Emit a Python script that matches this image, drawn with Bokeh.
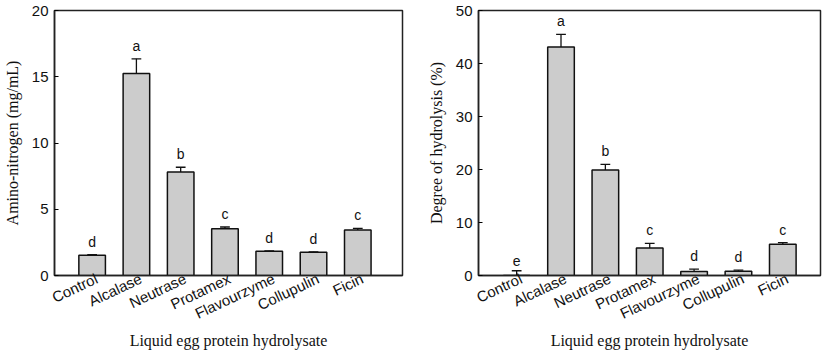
from bokeh.plotting import figure
from bokeh.layouts import row
from bokeh.models import FixedTicker, Range1d, ColumnDataSource
from bokeh.core.properties import value
from bokeh.embed import file_html
from bokeh.resources import INLINE

categories = ["Control", "Alcalase", "Neutrase", "Protamex", "Flavourzyme", "Collupulin", "Ficin"]
amino_n = [1.53, 15.25, 7.82, 3.53, 1.83, 1.76, 3.43]
amino_n_err = [0.05, 1.1, 0.35, 0.13, 0.03, 0.03, 0.12]
amino_n_letters = ["d", "a", "b", "c", "d", "d", "c"]
dh = [0.0, 43.1, 19.9, 5.2, 0.75, 0.8, 5.9]
dh_err = [0.9, 2.4, 1.05, 0.87, 0.45, 0.2, 0.3]
dh_letters = ["e", "a", "b", "c", "d", "d", "c"]
x_title = "Liquid egg protein hydrolysate"

SANS = "Liberation Sans"
SERIF = "Liberation Serif"


def make(vals, errs, letters, ymax, yticks, ylabel, width, bl, br, xr):
    xs = list(range(len(categories)))
    tops = [v + e for v, e in zip(vals, errs)]
    src = ColumnDataSource(dict(x=xs, v=vals, top=tops,
                                x0=[x - 0.11 for x in xs], x1=[x + 0.11 for x in xs],
                                lab=letters))
    p = figure(width=width, height=352, output_backend="svg", toolbar_location=None,
               x_range=Range1d(*xr), y_range=Range1d(0, ymax),
               min_border_left=bl, min_border_right=br, min_border_top=10, min_border_bottom=76)
    p.vbar(x="x", top="v", bottom=0, width=0.6, source=src, fill_color="#cccccc",
           line_color="#111111", line_width=1.5)
    p.segment(x0="x", y0="v", x1="x", y1="top", source=src, line_color="#111111", line_width=1.3)
    p.segment(x0="x0", y0="top", x1="x1", y1="top", source=src, line_color="#111111", line_width=1.3)
    p.text(x="x", y="top", text="lab", source=src, y_offset=-5, text_align="center",
           text_baseline="bottom", text_font=value(SANS), text_font_size="14px", text_color="#111111")
    p.xgrid.visible = False
    p.ygrid.visible = False
    p.outline_line_color = "#222222"
    p.outline_line_width = 1.5
    p.outline_line_alpha = 1.0

    xa = p.xaxis[0]
    label_pos = [x + 0.1 for x in xs]
    xa.ticker = FixedTicker(ticks=label_pos)
    xa.major_label_overrides = {t: c for t, c in zip(label_pos, categories)}
    xa.major_label_orientation = 0.44
    xa.major_tick_in = 0
    xa.major_tick_out = 0
    xa.minor_tick_line_color = None
    xa.axis_line_color = "#222222"
    xa.axis_line_width = 1.5
    xa.major_label_text_font = SANS
    xa.major_label_text_font_size = "15px"
    xa.major_label_text_color = "#111111"
    xa.major_label_standoff = 2
    xa.axis_label = x_title
    xa.axis_label_text_font = SERIF
    xa.axis_label_text_font_style = "normal"
    xa.axis_label_text_font_size = "16px"
    xa.axis_label_text_color = "#111111"
    xa.axis_label_standoff = 0

    ya = p.yaxis[0]
    ya.ticker = FixedTicker(ticks=yticks)
    ya.major_tick_in = 4
    ya.major_tick_out = 0
    ya.minor_tick_line_color = None
    ya.axis_line_color = "#222222"
    ya.axis_line_width = 1.5
    ya.major_label_text_font = SANS
    ya.major_label_text_font_size = "15px"
    ya.major_label_text_color = "#111111"
    ya.major_label_standoff = 6
    ya.axis_label = ylabel
    ya.axis_label_text_font = SERIF
    ya.axis_label_text_font_style = "normal"
    ya.axis_label_text_font_size = "16px"
    ya.axis_label_text_color = "#111111"
    ya.axis_label_standoff = 8
    return p


p1 = make(amino_n, amino_n_err, amino_n_letters, 20, [0, 5, 10, 15, 20],
          "Amino-nitrogen (mg/mL)", 410, 53, 8, (-0.85, 7.01))
p2 = make(dh, dh_err, dh_letters, 50, [0, 10, 20, 30, 40, 50],
          "Degree of hydrolysis (%)", 417, 68, 7, (-0.86, 6.85))

layout = row(p1, p2)
open("out.html", "w").write(file_html(layout, INLINE))
